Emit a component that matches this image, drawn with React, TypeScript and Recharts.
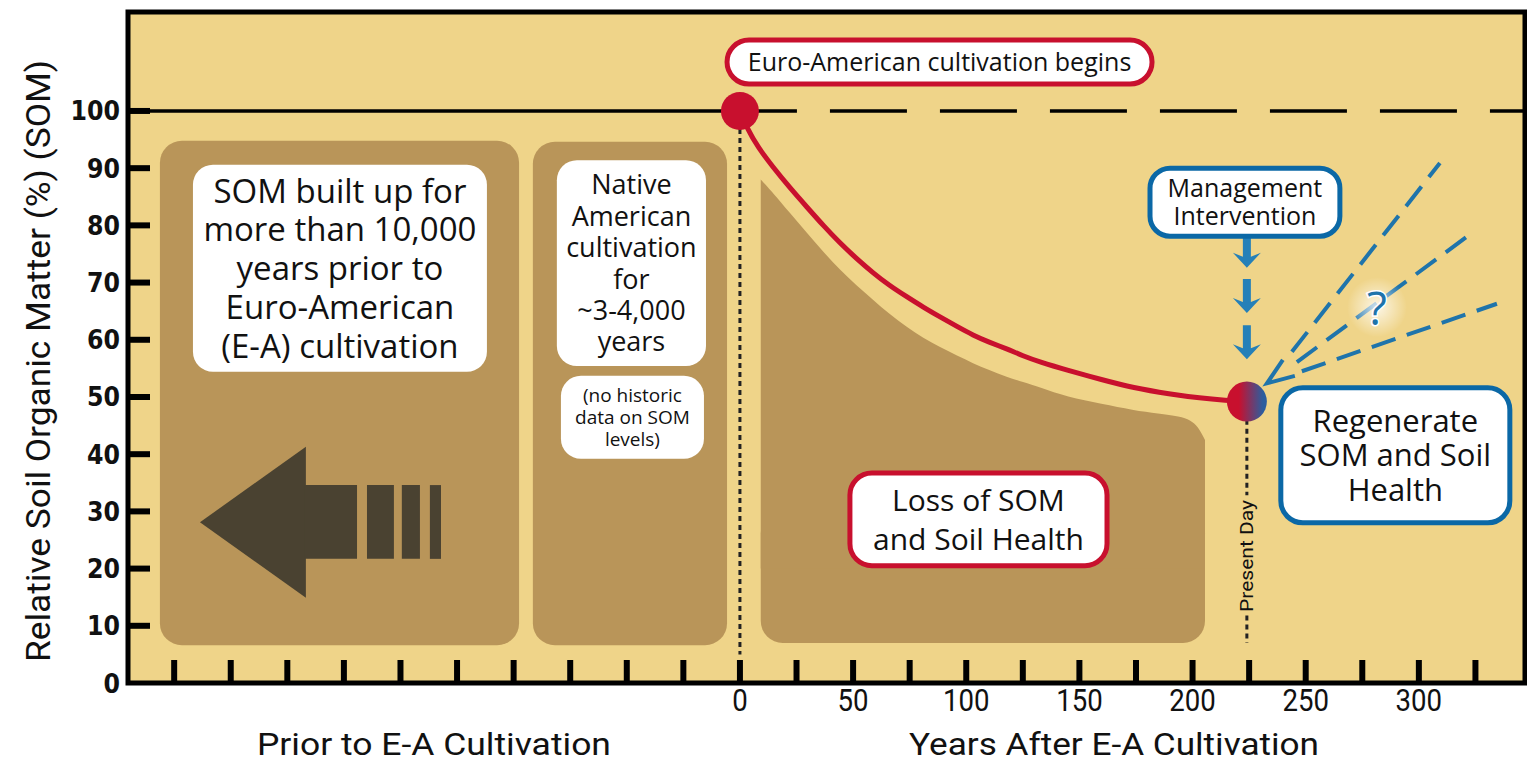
import {
  ComposedChart,
  Line,
  Area,
  XAxis,
  YAxis,
  CartesianGrid,
  ReferenceArea,
  ReferenceLine,
  ReferenceDot,
} from 'recharts'

// SOM decline after E-A cultivation (relative %, by year)
const somYears = [0, 3, 8, 14.6, 22, 29.6, 37, 44.2, 51.5, 58.8, 66, 73.8, 81, 88.4, 96, 103, 110, 118, 125, 132.6, 144.5, 160, 173.7, 190, 203.3, 215, 223]
const somValues = [100, 97.1, 93.6, 90.2, 86.6, 83.2, 79.9, 76.9, 74.2, 71.7, 69.5, 67.5, 65.7, 64.0, 62.3, 60.8, 59.6, 58.4, 57.2, 56.1, 54.7, 53.0, 51.6, 50.5, 49.8, 49.4, 49.2]

// "loss" shading under the curve
const lossYears = [9.2, 14.6, 22, 29.6, 37, 44.2, 51.5, 58.8, 66, 73.8, 81, 88.4, 96, 103, 110, 118, 125, 132.6, 144.5, 160, 173.7, 185, 194.4, 199, 202.5, 205.5]
const lossTop = [88, 85.7, 82.2, 78.7, 75.3, 72.2, 69.5, 67.0, 64.5, 62.2, 60.3, 58.7, 57.2, 55.9, 54.7, 53.5, 52.6, 51.7, 50.0, 48.8, 47.7, 47.1, 46.6, 46.0, 44.8, 42.5]

// possible futures after management intervention
const scenarioStartYears = [243.9, 246.1, 248.3]
const scenarioStartValues = [57.9, 56.1, 54.5]
const scenarioEndYears = [309.3, 323.9, 334.5]
const scenarioEndValues = [90.9, 78.8, 66.3]

const yTicks = [0, 10, 20, 30, 40, 50, 60, 70, 80, 90, 100]
const xTicks = [-250, -225, -200, -175, -150, -125, -100, -75, -50, -25, 0, 25, 50, 75, 100, 125, 150, 175, 200, 225, 250, 275, 300, 325]
const xLabelTicks = [0, 50, 100, 150, 200, 250, 300]

const PRESENT_DAY = 224
const X_MIN = -270.4
const X_MAX = 346.9
const Y_MAX = 117.3

const somData = somYears.map((x, i) => ({ x, y: somValues[i] }))
const lossData = lossYears.map((x, i) => ({ x, y: lossTop[i] }))
const scenarioData = scenarioEndYears.map((x, i) => [
  { x: scenarioStartYears[i], y: scenarioStartValues[i] },
  { x, y: scenarioEndValues[i] },
])
const arrowHeadData = [
  { x: 239.9, y: 56.5 },
  { x: 232.9, y: 52.4 },
  { x: 245.2, y: 53.7 },
]

const BG = '#efd489'
const BROWN = '#b99559'
const DARK = '#4a4231'
const RED = '#c8102e'
const BLUE = '#0b68a6'
const LIGHT_BLUE = '#1f74ab'
const ARROW_BLUE = '#2580b8'
const BOX_FONT = "'Open Sans', 'Noto Sans', sans-serif"
const COND_FONT = "Roboto, 'Liberation Sans', sans-serif"

const YTick = (props: any) => {
  const { x, y, payload } = props
  return (
    <g>
      {payload.value > 0 && (
        <line x1={x + 8} x2={x + 30} y1={y} y2={y} stroke="#000" strokeWidth={6} />
      )}
      <text
        x={x}
        y={y}
        textAnchor="end"
        dominantBaseline="central"
        fontFamily="'DejaVu Sans', sans-serif"
        fontWeight={700}
        fontSize={27}
        fill="#111"
        textLength={String(payload.value).length * 16.5}
        lengthAdjust="spacingAndGlyphs"
      >
        {payload.value}
      </text>
    </g>
  )
}

const XTick = (props: any) => {
  const { x, y, payload } = props
  const label = String(payload.value)
  return (
    <g>
      <line x1={x} x2={x} y1={y} y2={y - 23} stroke="#000" strokeWidth={6} />
      {xLabelTicks.includes(payload.value) && (
        <text
          x={x}
          y={y + 28}
          textAnchor="middle"
          fontFamily={COND_FONT}
          fontSize={32}
          fill="#111"
          textLength={label.length * 15.5}
          lengthAdjust="spacingAndGlyphs"
        >
          {label}
        </text>
      )}
    </g>
  )
}

function roundRect(fill: string, rx: number) {
  return (p: any) => (
    <rect x={p.x} y={p.y} width={p.width} height={p.height} rx={rx} ry={rx} fill={fill} />
  )
}

function textBox(lines: string[], fontSize: number, lineHeight: number, stroke?: string, rx = 20) {
  return (p: any) => {
    const { x, y, width, height } = p
    const cx = x + width / 2
    const y0 = y + height / 2 - ((lines.length - 1) * lineHeight) / 2
    return (
      <g>
        <rect
          x={x}
          y={y}
          width={width}
          height={height}
          rx={rx}
          ry={rx}
          fill="#fff"
          stroke={stroke || 'none'}
          strokeWidth={stroke ? 5 : 0}
        />
        <text textAnchor="middle" fontFamily={BOX_FONT} fontSize={fontSize} fill="#111">
          {lines.map((l, i) => (
            <tspan key={i} x={cx} y={y0 + i * lineHeight + fontSize * 0.36}>
              {l}
            </tspan>
          ))}
        </text>
      </g>
    )
  }
}

const triangleLeft = (p: any) => {
  const { x, y, width, height } = p
  return (
    <polygon
      points={`${x},${y + height / 2} ${x + width},${y} ${x + width},${y + height}`}
      fill={DARK}
    />
  )
}

// solid down arrow with swept-back barbs, tip at (cx, cy)
const downArrow = (p: any) => {
  const { cx, cy } = p
  const pts = [
    [cx, cy],
    [cx - 14, cy - 15],
    [cx - 4, cy - 11],
    [cx - 4, cy - 34],
    [cx + 4, cy - 34],
    [cx + 4, cy - 11],
    [cx + 14, cy - 15],
  ]
  return <polygon points={pts.map((q) => q.join(',')).join(' ')} fill={ARROW_BLUE} />
}

function condText(value: string, length: number, fontSize: number, rotate = false) {
  return (p: any) => (
    <text
      x={p.cx}
      y={p.cy}
      textAnchor="middle"
      dominantBaseline="central"
      fontFamily={COND_FONT}
      fontSize={fontSize}
      fill="#111"
      textLength={length}
      lengthAdjust="spacingAndGlyphs"
      transform={rotate ? `rotate(-90, ${p.cx}, ${p.cy})` : undefined}
    >
      {value}
    </text>
  )
}

const questionMark = (p: any) => (
  <g>
    <circle cx={p.cx} cy={p.cy} r={30} fill="url(#qGlow)" />
    <text
      x={p.cx}
      y={p.cy}
      textAnchor="middle"
      dominantBaseline="central"
      fontFamily={BOX_FONT}
      fontSize={46}
      fill={LIGHT_BLUE}
      stroke="#fff"
      strokeWidth={3}
      paintOrder="stroke"
    >
      ?
    </text>
  </g>
)

export default function App() {
  return (
    <div style={{ padding: '8px 0 0 8px', width: 1519, height: 749 }}>
      <style>{'body { margin: 0; }'}</style>
      <ComposedChart width={1519} height={749} margin={{ top: 4, right: 2, bottom: 0, left: 8 }}>
        <defs>
          <linearGradient id="presentGrad" x1="0" y1="0" x2="1" y2="0">
            <stop offset="0.3" stopColor={RED} />
            <stop offset="0.9" stopColor="#2c5d9e" />
          </linearGradient>
          <radialGradient id="qGlow">
            <stop offset="0" stopColor="#fff" stopOpacity={0.8} />
            <stop offset="1" stopColor="#fff" stopOpacity={0} />
          </radialGradient>
        </defs>
        <CartesianGrid fill={BG} horizontal={false} vertical={false} />

        {/* brown period panels */}
        <ReferenceArea x1={-256.3} x2={-97.6} y1={6.6} y2={94.8} ifOverflow="visible" zIndex={110} shape={roundRect(BROWN, 22)} />
        <ReferenceArea x1={-91.5} x2={-5.7} y1={6.6} y2={94.6} ifOverflow="visible" zIndex={110} shape={roundRect(BROWN, 22)} />
        <ReferenceArea x1={9.2} x2={205.5} y1={7} y2={30} ifOverflow="visible" zIndex={115} shape={roundRect(BROWN, 22)} />
        <Area
          data={lossData}
          dataKey="y"
          type="basis"
          baseValue={20}
          fill={BROWN}
          fillOpacity={1}
          stroke="none"
          isAnimationActive={false}
          zIndex={115}
        />

        {/* big arrow pointing back in time */}
        <ReferenceArea x1={-238.6} x2={-191.8} y1={14.9} y2={41.3} ifOverflow="visible" zIndex={120} shape={triangleLeft} />
        <ReferenceArea x1={-192.2} x2={-169.2} y1={21.7} y2={34.6} ifOverflow="visible" zIndex={120} fill={DARK} fillOpacity={1} />
        <ReferenceArea x1={-164.8} x2={-152.9} y1={21.7} y2={34.6} ifOverflow="visible" zIndex={120} fill={DARK} fillOpacity={1} />
        <ReferenceArea x1={-149.4} x2={-141.4} y1={21.7} y2={34.6} ifOverflow="visible" zIndex={120} fill={DARK} fillOpacity={1} />
        <ReferenceArea x1={-137.0} x2={-132.1} y1={21.7} y2={34.6} ifOverflow="visible" zIndex={120} fill={DARK} fillOpacity={1} />

        {/* 100% baseline */}
        <ReferenceLine segment={[{ x: X_MIN, y: 100 }, { x: 0, y: 100 }]} stroke="#000" strokeWidth={3.5} ifOverflow="visible" zIndex={130} />
        <ReferenceLine
          segment={[{ x: 0, y: 100 }, { x: X_MAX, y: 100 }]}
          stroke="#000"
          strokeWidth={3.5}
          strokeDasharray="77 33"
          strokeDashoffset={20}
          ifOverflow="visible"
          zIndex={130}
        />
        <ReferenceLine segment={[{ x: 0, y: 100 }, { x: 0, y: 5 }]} stroke="#222" strokeWidth={3} strokeDasharray="5 4" ifOverflow="visible" zIndex={130} />
        <ReferenceLine segment={[{ x: PRESENT_DAY, y: 46 }, { x: PRESENT_DAY, y: 32.8 }]} stroke="#222" strokeWidth={3} strokeDasharray="5 4" ifOverflow="visible" zIndex={130} />
        <ReferenceLine segment={[{ x: PRESENT_DAY, y: 11.8 }, { x: PRESENT_DAY, y: 7 }]} stroke="#222" strokeWidth={3} strokeDasharray="5 4" ifOverflow="visible" zIndex={130} />

        <Line data={somData} dataKey="y" type="basis" stroke={RED} strokeWidth={5} dot={false} activeDot={false} isAnimationActive={false} zIndex={140} />
        {scenarioData.map((d, i) => (
          <Line
            key={i}
            data={d}
            dataKey="y"
            type="linear"
            stroke={LIGHT_BLUE}
            strokeWidth={4}
            strokeDasharray="25 12"
            dot={false}
            activeDot={false}
            isAnimationActive={false}
            zIndex={140}
          />
        ))}
        <Line data={arrowHeadData} dataKey="y" type="linear" stroke={LIGHT_BLUE} strokeWidth={4} dot={false} activeDot={false} isAnimationActive={false} zIndex={140} />

        <ReferenceDot x={0} y={100} r={19} fill={RED} stroke="none" ifOverflow="visible" zIndex={150} />
        <ReferenceDot x={PRESENT_DAY} y={49.2} r={20} fill="url(#presentGrad)" stroke="none" ifOverflow="visible" zIndex={150} />
        <ReferenceDot x={PRESENT_DAY} y={72.6} ifOverflow="visible" zIndex={150} shape={downArrow} />
        <ReferenceDot x={PRESENT_DAY} y={64.7} ifOverflow="visible" zIndex={150} shape={downArrow} />
        <ReferenceDot x={PRESENT_DAY} y={56.6} ifOverflow="visible" zIndex={150} shape={downArrow} />
        <ReferenceDot x={281.5} y={65.7} ifOverflow="visible" zIndex={150} shape={questionMark} />

        {/* annotation boxes */}
        <ReferenceArea x1={-241.7} x2={-111.8} y1={54.4} y2={90.6} ifOverflow="visible" zIndex={160}
          shape={textBox(['SOM built up for', 'more than 10,000', 'years prior to', 'Euro-American', '(E-A) cultivation'], 33, 38.8)} />
        <ReferenceArea x1={-80.9} x2={-15.0} y1={55.4} y2={91.4} ifOverflow="visible" zIndex={160}
          shape={textBox(['Native', 'American', 'cultivation', 'for', '~3-4,000', 'years'], 27, 31.4)} />
        <ReferenceArea x1={-79.1} x2={-15.9} y1={39.2} y2={53.7} ifOverflow="visible" zIndex={160}
          shape={textBox(['(no historic', 'data on SOM', 'levels)'], 19, 22)} />
        <ReferenceArea x1={-5.7} x2={182.1} y1={104.7} y2={112.4} ifOverflow="visible" zIndex={160}
          shape={textBox(['Euro-American cultivation begins'], 25, 30, RED, 22)} />
        <ReferenceArea x1={48.6} x2={162.2} y1={20.5} y2={36.7} ifOverflow="visible" zIndex={160}
          shape={textBox(['Loss of SOM', 'and Soil Health'], 30, 39, RED, 22)} />
        <ReferenceArea x1={181.2} x2={265.1} y1={78.1} y2={90.0} ifOverflow="visible" zIndex={160}
          shape={textBox(['Management', 'Intervention'], 25, 28, BLUE, 20)} />
        <ReferenceArea x1={239.0} x2={340.2} y1={28.0} y2={51.6} ifOverflow="visible" zIndex={160}
          shape={textBox(['Regenerate', 'SOM and Soil', 'Health'], 31, 34.5, BLUE, 22)} />

        {/* axis titles and present-day label */}
        <ReferenceDot x={PRESENT_DAY} y={22.2} ifOverflow="visible" zIndex={170} shape={condText('Present Day', 112, 19, true)} />
        <ReferenceDot x={-135.2} y={-10.6} ifOverflow="visible" zIndex={170} shape={condText('Prior to E-A Cultivation', 354, 32)} />
        <ReferenceDot x={165.3} y={-10.6} ifOverflow="visible" zIndex={170} shape={condText('Years After E-A Cultivation', 410, 32)} />
        <ReferenceDot x={-310.2} y={56.3} ifOverflow="visible" zIndex={170} shape={condText('Relative Soil Organic Matter (%) (SOM)', 602, 34, true)} />

        {/* plot frame */}
        <ReferenceArea x1={X_MIN} x2={X_MAX} y1={0} y2={Y_MAX} ifOverflow="visible" zIndex={180} fill="none" stroke="#000" strokeWidth={5} />

        <XAxis
          type="number"
          dataKey="x"
          domain={[X_MIN, X_MAX]}
          allowDataOverflow
          ticks={xTicks}
          interval={0}
          tick={XTick}
          tickLine={false}
          axisLine={false}
          tickSize={0}
          tickMargin={0}
          height={74}
        />
        <YAxis
          type="number"
          domain={[0, Y_MAX]}
          allowDataOverflow
          ticks={yTicks}
          interval={0}
          tick={YTick}
          tickLine={false}
          axisLine={false}
          tickSize={0}
          tickMargin={8}
          width={112}
        />
      </ComposedChart>
    </div>
  )
}
